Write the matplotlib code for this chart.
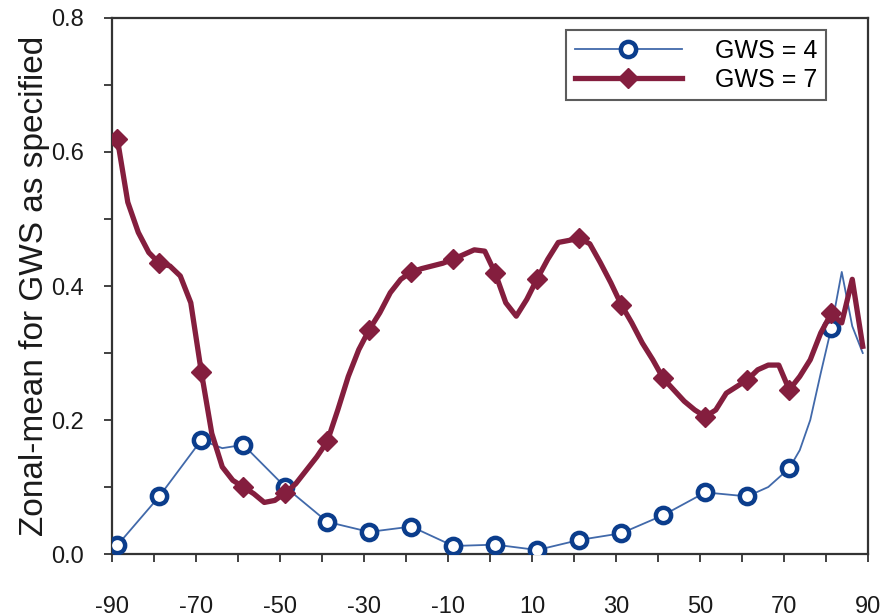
import numpy as np
import matplotlib
matplotlib.use("Agg")
import matplotlib.pyplot as plt
from matplotlib.ticker import MultipleLocator, FormatStrFormatter

plt.rcParams['font.family'] = ['Liberation Sans', 'DejaVu Sans']
plt.rcParams['axes.unicode_minus'] = False

# GWS = 7 series (2.5 degree grid)
lat7 = [-88.75, -86.25, -83.75, -81.25, -78.75, -76.25, -73.75, -71.25, -68.75, -66.25,
        -63.75, -61.25, -58.75, -56.25, -53.75, -51.25, -48.75, -46.25, -43.75, -41.25,
        -38.75, -36.25, -33.75, -31.25, -28.75, -26.25, -23.75, -21.25, -18.75, -16.25,
        -13.75, -11.25, -8.75, -6.25, -3.75, -1.25, 1.25, 3.75, 6.25, 8.75,
        11.25, 13.75, 16.25, 18.75, 21.25, 23.75, 26.25, 28.75, 31.25, 33.75,
        36.25, 38.75, 41.25, 43.75, 46.25, 48.75, 51.25, 53.75, 56.25, 58.75,
        61.25, 63.75, 66.25, 68.75, 71.25, 73.75, 76.25, 78.75, 81.25, 83.75,
        86.25, 88.75]
gws7 = [0.620, 0.525, 0.480, 0.450, 0.434, 0.430, 0.415, 0.375, 0.272, 0.180,
        0.130, 0.110, 0.100, 0.090, 0.077, 0.080, 0.091, 0.105, 0.125, 0.145,
        0.168, 0.215, 0.265, 0.305, 0.335, 0.360, 0.390, 0.410, 0.421, 0.426,
        0.430, 0.434, 0.440, 0.447, 0.454, 0.452, 0.419, 0.375, 0.355, 0.380,
        0.411, 0.440, 0.465, 0.468, 0.471, 0.463, 0.435, 0.405, 0.372, 0.345,
        0.315, 0.290, 0.262, 0.245, 0.228, 0.215, 0.205, 0.215, 0.240, 0.250,
        0.260, 0.275, 0.282, 0.282, 0.245, 0.265, 0.290, 0.330, 0.359, 0.345,
        0.410, 0.310]

# GWS = 4 series
lat4 = [-88.75, -78.75, -68.75, -63.75, -58.75, -48.75, -38.75, -28.75, -18.75, -8.75,
        1.25, 11.25, 21.25, 31.25, 41.25, 51.25, 61.25, 66.25, 71.25, 73.75, 76.25,
        78.75, 81.25, 83.75, 86.25, 88.75]
gws4 = [0.013, 0.086, 0.170, 0.158, 0.163, 0.100, 0.048, 0.033, 0.041, 0.012,
        0.014, 0.006, 0.021, 0.031, 0.058, 0.092, 0.086, 0.100, 0.128, 0.155, 0.200,
        0.270, 0.337, 0.421, 0.340, 0.300]

# latitudes that carry a marker
marker_lats = [-88.75, -78.75, -68.75, -58.75, -48.75, -38.75, -28.75, -18.75, -8.75,
               1.25, 11.25, 21.25, 31.25, 41.25, 51.25, 61.25, 71.25, 81.25]

labels = ["GWS = 4", "GWS = 7"]
xticks = [-90, -70, -50, -30, -10, 10, 30, 50, 70, 90]
xminor = [-80, -60, -40, -20, 0, 20, 40, 60, 80]

mk4 = [i for i, v in enumerate(lat4) if v in marker_lats]
mk7 = [i for i, v in enumerate(lat7) if v in marker_lats]

fig = plt.figure(figsize=(8.85, 6.16), dpi=100)
ax = fig.add_axes([0.1266, 0.1006, 0.8542, 0.8702])

ax.plot(lat4, gws4, color='#4169aa', lw=1.3, marker='o', markevery=mk4,
        ms=11, mfc='white', mec='#0b3d8c', mew=3.2, label=labels[0], zorder=3)
ax.plot(lat7, gws7, color='#841e3e', lw=3.8, marker='D', markevery=mk7,
        ms=10.5, mfc='#841e3e', mec='#841e3e', label=labels[1], zorder=4)

ax.set_xlim(-90, 90)
ax.set_ylim(0, 0.8)
ax.set_xticks(xticks)
ax.set_xticks(xminor, minor=True)
ax.yaxis.set_major_locator(MultipleLocator(0.2))
ax.yaxis.set_minor_locator(MultipleLocator(0.1))
ax.yaxis.set_major_formatter(FormatStrFormatter('%.1f'))

ax.tick_params(axis='both', which='both', direction='out', length=6, width=1.3,
               color='#333333', labelsize=17, labelcolor='#1a1a1a')
ax.tick_params(axis='x', which='major', pad=24)
ax.tick_params(axis='y', which='major', pad=14)

for s in ax.spines.values():
    s.set_linewidth(1.6)
    s.set_color('#333333')

ax.set_ylabel("Zonal-mean for GWS as specified", fontsize=24, color='#1a1a1a', labelpad=1)

leg = ax.legend(loc='upper right', bbox_to_anchor=(0.944, 0.978), fontsize=18,
                frameon=True, fancybox=False, edgecolor='#333333', borderpad=0.35,
                labelspacing=0.2, handlelength=4.3, handletextpad=1.3,
                borderaxespad=0)
leg.get_frame().set_linewidth(1.5)

fig.savefig("out.png", dpi=100)
